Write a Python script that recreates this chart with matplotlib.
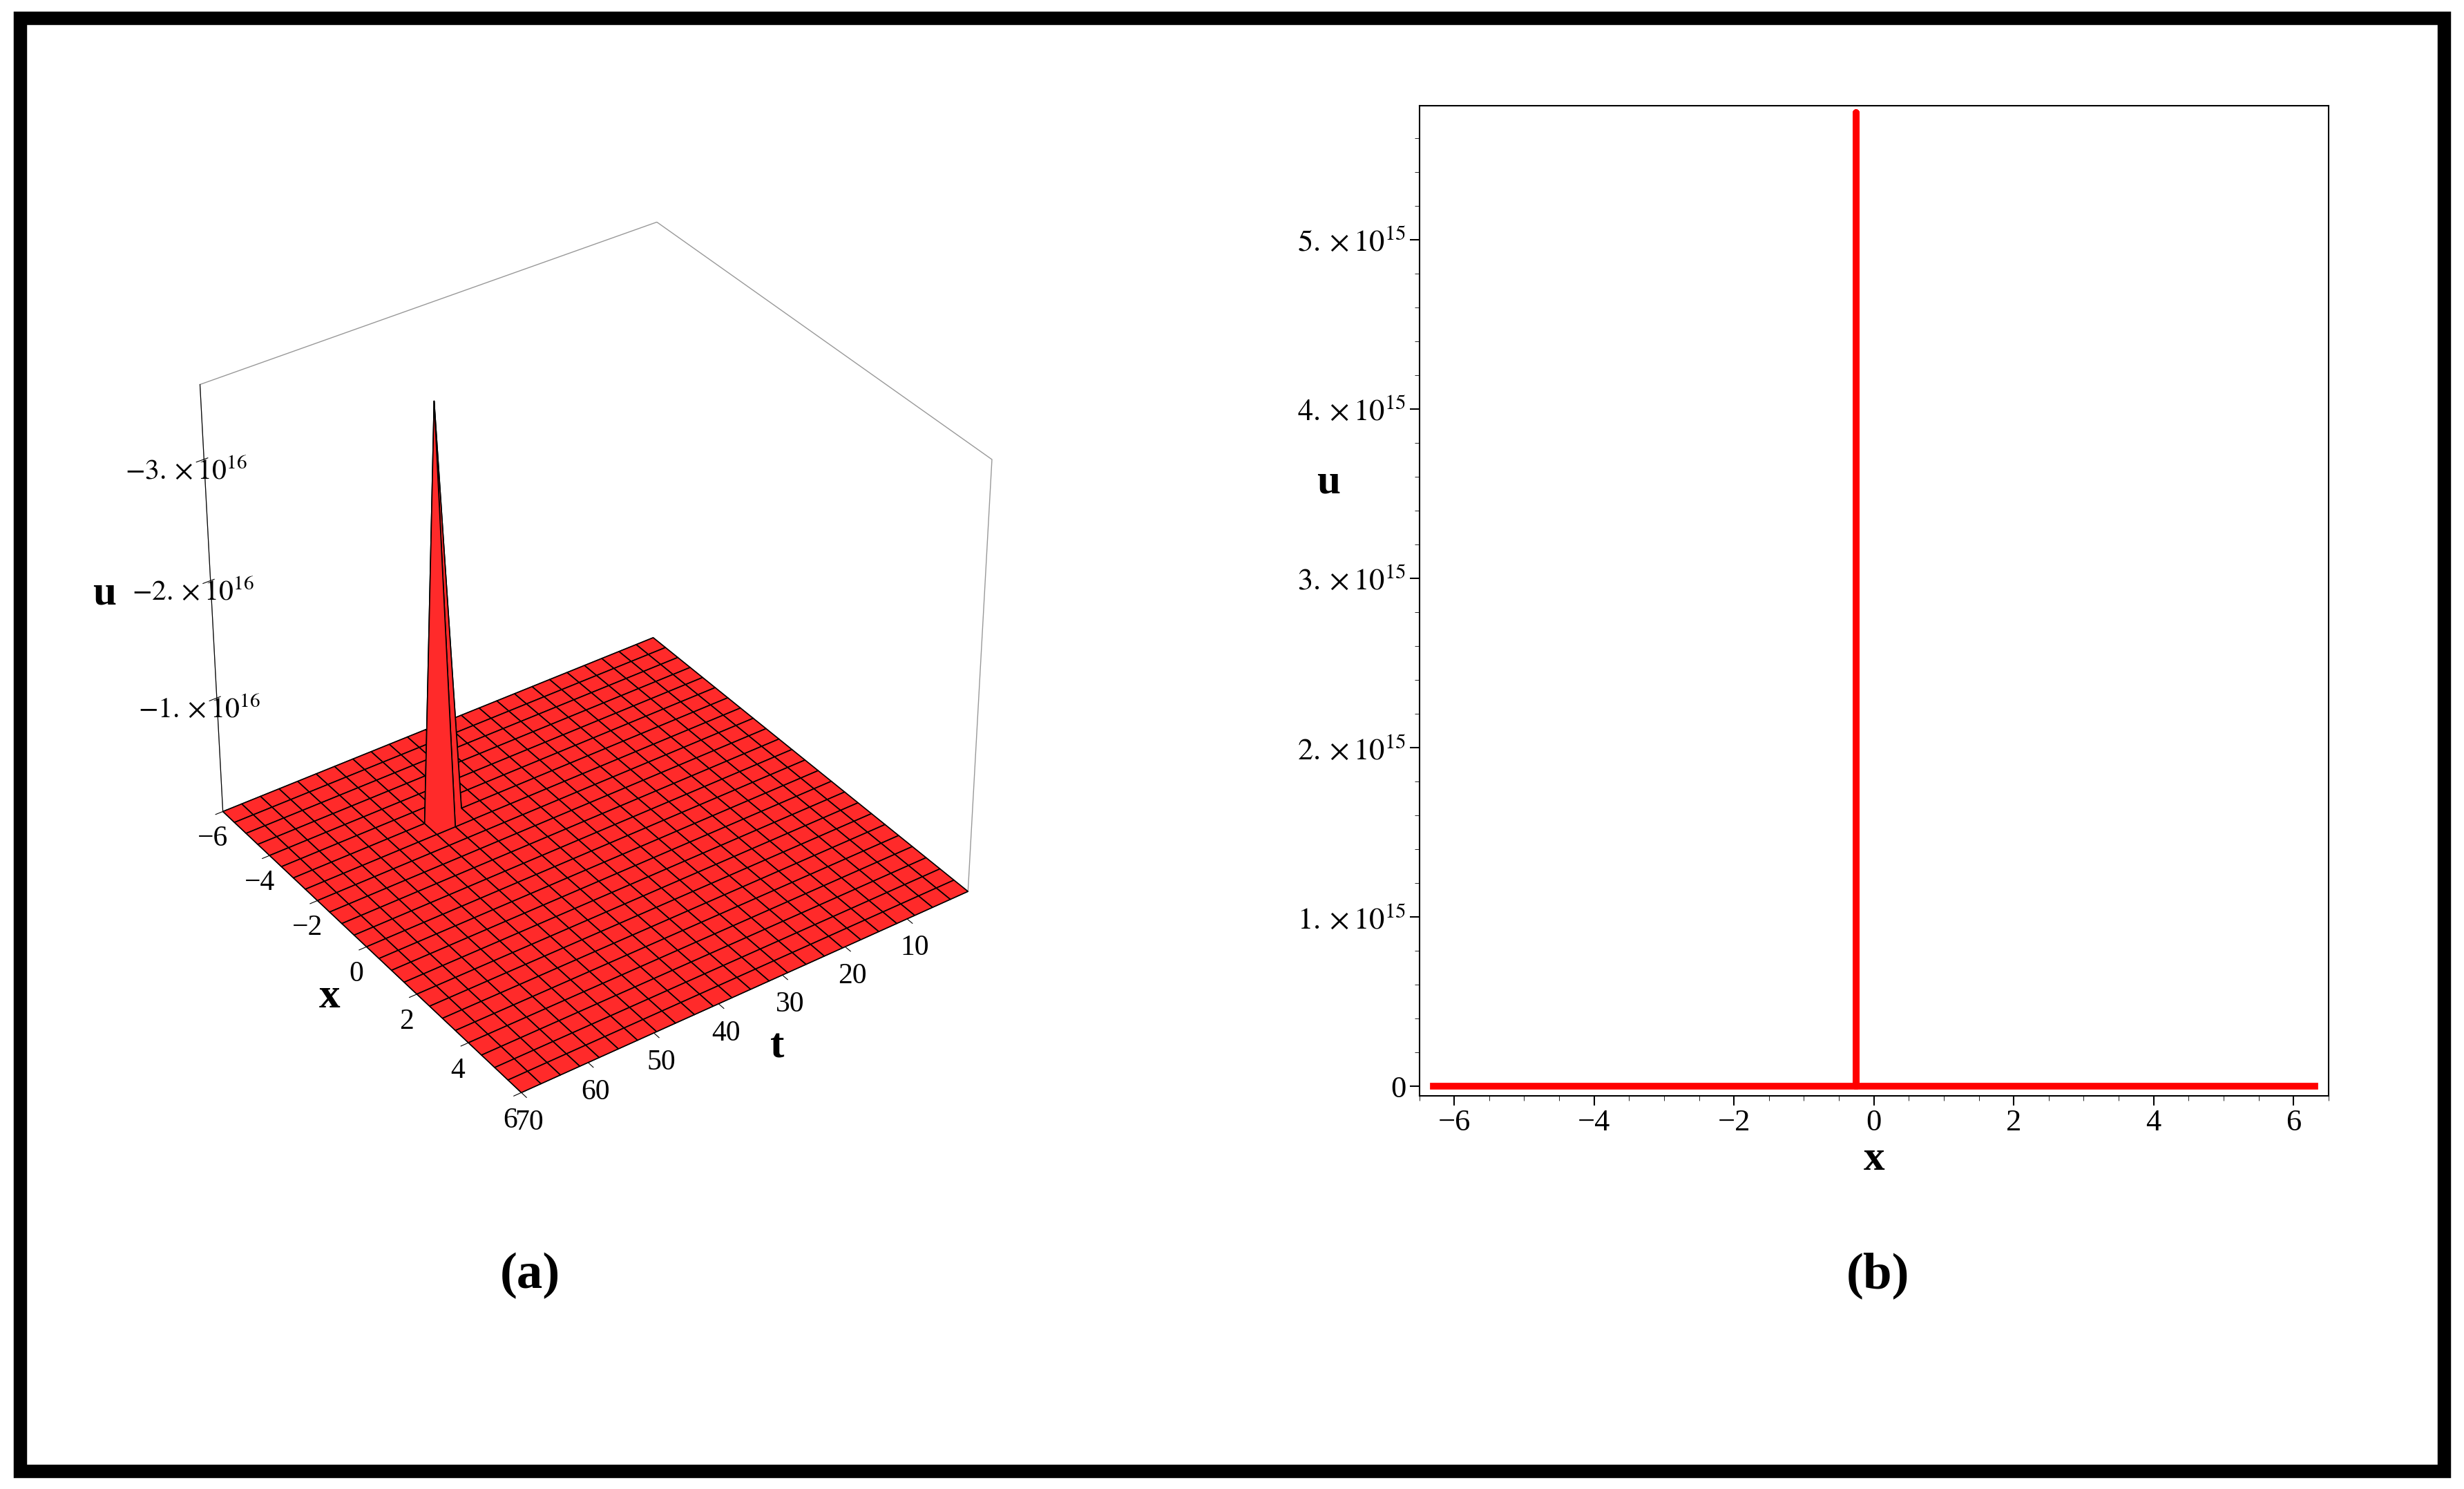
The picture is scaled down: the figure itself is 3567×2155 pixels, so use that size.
import numpy as np
import matplotlib
matplotlib.use("Agg")
import matplotlib.pyplot as plt
from matplotlib.patches import Rectangle

plt.rcParams['font.family'] = ['Liberation Serif', 'DejaVu Serif']
plt.rcParams['mathtext.fontset'] = 'stix'

# data
x_grid = np.linspace(-6, 6, 25)
t_grid = np.linspace(0, 70, 25)
spike_x_index = 6
spike_t_index = 16
spike_value = -3.5e16
line_x = [-6.3, -0.25, -0.25, -0.25, 6.3]
line_u = [0, 0, 5.75e15, 0, 0]

fig = plt.figure(figsize=(35.67, 21.55), dpi=100)
fig.patches.append(Rectangle((0.008, 0.012), 0.984, 0.976, transform=fig.transFigure,
                             fill=False, lw=14, ec='black'))

# 3D panel (mpl x-axis = t, mpl y-axis = x)
ax = fig.add_axes([0.05, 0.2, 0.37, 0.72], projection='3d')
T, X = np.meshgrid(t_grid, x_grid, indexing='ij')
U = np.zeros_like(X)
U[spike_t_index, spike_x_index] = spike_value
ax.plot_surface(T, X, U, color='#ff2a2a', edgecolor='black', linewidth=1.2, shade=False)
ax.set_xlim(0, 70); ax.set_ylim(-6, 6); ax.set_zlim(0, -3.6e16)
ax.view_init(elev=35, azim=55)
ax.set_box_aspect((1, 1, 0.95))
ax.set_yticks([-6, -4, -2, 0, 2, 4, 6])
ax.set_yticklabels(['\u22126', '\u22124', '\u22122', '0', '2', '4', '6'])
ax.set_xticks([10, 20, 30, 40, 50, 60, 70])
ax.set_zticks([-1e16, -2e16, -3e16])
ax.set_zticklabels([r'$-1.\times10^{16}$', r'$-2.\times10^{16}$', r'$-3.\times10^{16}$'])
for a in (ax.xaxis, ax.yaxis, ax.zaxis):
    a.pane.fill = False
    a.pane.set_edgecolor('#333333')
    a.line.set_color('black')
ax.grid(False)
ax.tick_params(labelsize=30)
ax.set_ylabel('x', fontsize=44, fontweight='bold', labelpad=20)
ax.set_xlabel('t', fontsize=44, fontweight='bold', labelpad=20)
ax.set_zlabel('u', fontsize=44, fontweight='bold', labelpad=50)

# 2D panel
ax2 = fig.add_axes([0.576, 0.264, 0.369, 0.665])
ax2.plot(line_x, line_u, color='red', lw=7)
ax2.set_xlim(-6.5, 6.5)
ax2.set_ylim(-0.056e15, 5.79e15)
ax2.set_xticks([-6, -4, -2, 0, 2, 4, 6])
ax2.set_xticklabels(['\u22126', '\u22124', '\u22122', '0', '2', '4', '6'])
ax2.set_yticks([0, 1e15, 2e15, 3e15, 4e15, 5e15])
ax2.set_yticklabels(['0'] + [rf'${k}.\times10^{{15}}$' for k in range(1, 6)])
ax2.minorticks_on()
ax2.tick_params(labelsize=32, length=10, width=1.5)
ax2.tick_params(which='minor', length=5)
for s in ax2.spines.values():
    s.set_linewidth(1.5)
ax2.set_xlabel('x', fontsize=44, fontweight='bold')
ax2.set_ylabel('u', fontsize=44, fontweight='bold', rotation=0, labelpad=30)
ax2.yaxis.set_label_coords(-0.1, 0.6)

fig.text(0.215, 0.135, '(a)', fontsize=54, fontweight='bold', ha='center')
fig.text(0.762, 0.135, '(b)', fontsize=54, fontweight='bold', ha='center')
fig.savefig('out.png', dpi=100)
